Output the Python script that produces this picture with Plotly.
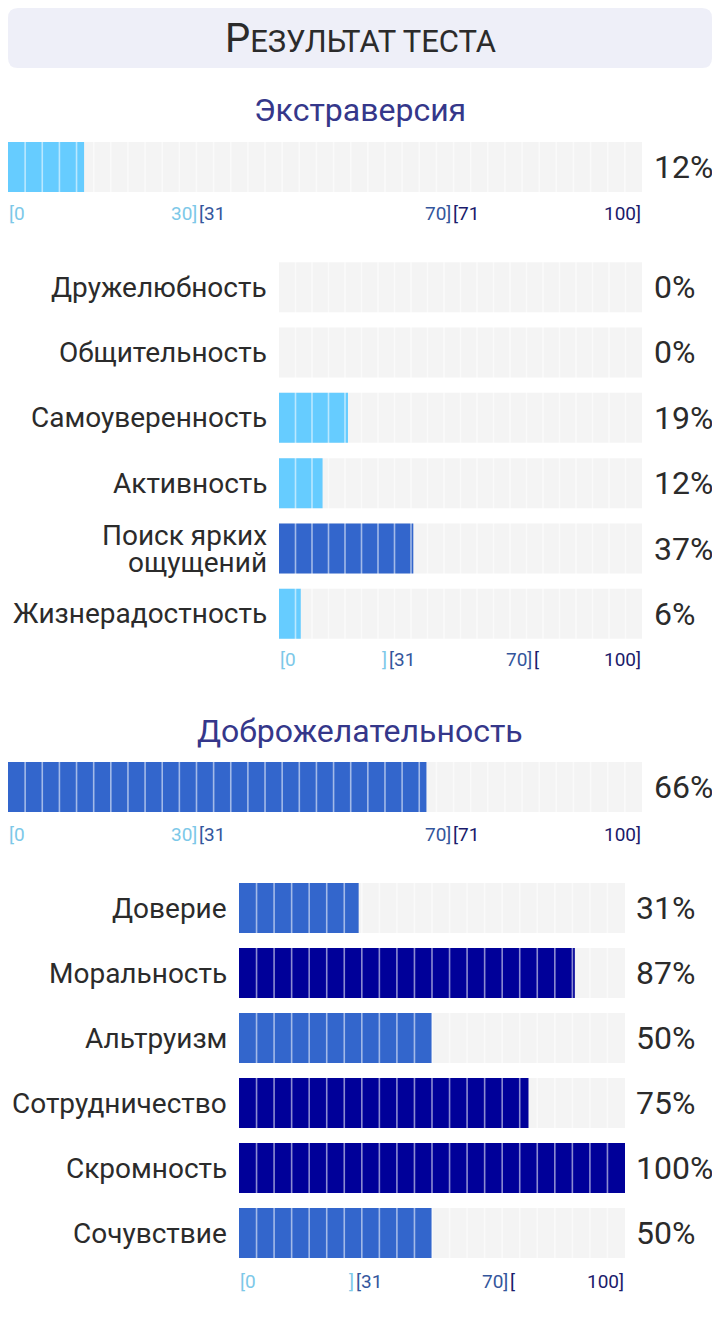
import plotly.graph_objects as go

W, H = 720, 1321
OFF = 8  # the page body puts the plot 8px in from the top-left corner
FW, FH = W - OFF, H - OFF

PAGE_TITLE = "Результат теста"

EXTRA_TITLE = "Экстраверсия"
EXTRA_SCORE = 12
EXTRA_FACETS = ["Дружелюбность", "Общительность", "Самоуверенность", "Активность",
                "Поиск ярких<br>ощущений", "Жизнерадостность"]
EXTRA_VALUES = [0, 0, 19, 12, 37, 6]

AGREE_TITLE = "Доброжелательность"
AGREE_SCORE = 66
AGREE_FACETS = ["Доверие", "Моральность", "Альтруизм", "Сотрудничество", "Скромность", "Сочувствие"]
AGREE_VALUES = [31, 87, 50, 75, 100, 50]

# score bands: [0..30], [31..70], [71..100]
BAND_EDGES = [0, 30, 70, 100]
MAIN_TICKS_OPEN = ["[0", "[31", "[71"]
MAIN_TICKS_CLOSE = ["30]", "70]", "100]"]
FACET_TICKS_OPEN = ["[0", "[31", "["]
FACET_TICKS_CLOSE = ["]", "70]", "100]"]

BAR_COLORS = ["#66ccff", "#3366cc", "#000099"]
TICK_COLORS = ["#7cc8e8", "#34569c", "#1b1b6b"]
TRACK = "#f4f4f4"
TEXT = "#2b2b2b"
TITLE_COLOR = "#35378a"
FONT = "Roboto"


def band(v):
    if v <= BAND_EDGES[1]:
        return 0
    if v <= BAND_EDGES[2]:
        return 1
    return 2


def px(p):
    return (p - OFF) / FW


def py(p):
    return 1 - (p - OFF) / FH


fig = go.Figure()


def add_panel(k, values, x0, x1, y0, y1, bar_w, cells):
    xa, ya = ("x", "y") if k == 1 else (f"x{k}", f"y{k}")
    n = len(values)
    idx = list(range(n))
    fig.add_trace(go.Bar(x=[100] * n, y=idx, orientation="h", width=bar_w,
                         marker=dict(color=TRACK, line_width=0),
                         xaxis=xa, yaxis=ya, hoverinfo="skip"))
    fig.add_trace(go.Bar(x=values, y=idx, orientation="h", width=bar_w,
                         marker=dict(color=[BAR_COLORS[band(v)] for v in values], line_width=0),
                         xaxis=xa, yaxis=ya, hoverinfo="skip"))
    # thin cell separators over the track and the filled part
    lx, ly = [], []
    for c in range(1, cells):
        b = c * 100 / cells
        lx += [b, b, None]
        ly += [-0.5, n - 0.5, None]
    fig.add_trace(go.Scatter(x=lx, y=ly, mode="lines", xaxis=xa, yaxis=ya,
                             line=dict(color="rgba(255,255,255,0.55)", width=1.6),
                             hoverinfo="skip"))
    sfx = "" if k == 1 else str(k)
    fig.layout["xaxis" + sfx] = dict(domain=[px(x0), px(x1)], range=[0, 100], visible=False,
                                     fixedrange=True, anchor=ya)
    fig.layout["yaxis" + sfx] = dict(domain=[py(y1), py(y0)], range=[n - 0.5, -0.5], visible=False,
                                     fixedrange=True, anchor=xa)
    return xa, ya


def add_ticks(xa, y_px, opens, closes):
    for i in range(3):
        for text, x, anchor in ((opens[i], BAND_EDGES[i], "left"),
                                (closes[i], BAND_EDGES[i + 1], "right")):
            fig.add_annotation(x=x, y=py(y_px), xref=xa, yref="paper", text=text,
                               xanchor=anchor, yanchor="middle", showarrow=False, borderpad=0,
                               font=dict(family=FONT, size=19, color=TICK_COLORS[i]))


def add_labels(ya, names, values, label_x, pct_x):
    for i, (name, v) in enumerate(zip(names, values)):
        lines = name.split("<br>")
        for j, line in enumerate(lines):
            if not line:
                continue
            shift = (len(lines) - 1) * 13.5 - j * 27
            fig.add_annotation(x=px(label_x), y=i, xref="paper", yref=ya, text=line,
                               xanchor="right", yanchor="middle", showarrow=False, yshift=shift,
                               borderpad=0, font=dict(family=FONT, size=28, color=TEXT))
        fig.add_annotation(x=px(pct_x), y=i, xref="paper", yref=ya, text=f"{v}%",
                           xanchor="left", yanchor="middle", showarrow=False, borderpad=0,
                           font=dict(family=FONT, size=32, color=TEXT))


# header
r = 10
x0, x1, y0, y1 = px(8), px(712), py(8), py(68)
rx, ry = r / FW, r / FH
fig.add_shape(type="path", xref="paper", yref="paper", line_width=0, fillcolor="#eeeff8",
              path=(f"M {x0 + rx} {y0} L {x1 - rx} {y0} Q {x1} {y0} {x1} {y0 - ry} "
                    f"L {x1} {y1 + ry} Q {x1} {y1} {x1 - rx} {y1} L {x0 + rx} {y1} "
                    f"Q {x0} {y1} {x0} {y1 + ry} L {x0} {y0 - ry} Q {x0} {y0} {x0 + rx} {y0} Z"))
head = PAGE_TITLE[0] + f"<span style='font-size:31px'>{PAGE_TITLE[1:].upper()}</span>"
fig.add_annotation(x=px(360), y=py(39), xref="paper", yref="paper", text=head, showarrow=False,
                   xanchor="center", yanchor="middle", font=dict(family=FONT, size=40, color=TEXT))

# extraversion
fig.add_annotation(x=px(360), y=py(110), xref="paper", yref="paper", text=EXTRA_TITLE,
                   showarrow=False, xanchor="center", yanchor="middle",
                   font=dict(family=FONT, size=32, color=TITLE_COLOR))
xa, ya = add_panel(1, [EXTRA_SCORE], 8, 642, 142, 192, 1.0, 37)
add_labels(ya, [""], [EXTRA_SCORE], 0, 653)
add_ticks(xa, 213, MAIN_TICKS_OPEN, MAIN_TICKS_CLOSE)

xa, ya = add_panel(2, EXTRA_VALUES, 279, 642, 254.5, 646.5, 50 / 65.33, 22)
add_labels(ya, EXTRA_FACETS, EXTRA_VALUES, 268, 653)
add_ticks(xa, 660, FACET_TICKS_OPEN, FACET_TICKS_CLOSE)

# agreeableness
fig.add_annotation(x=px(360), y=py(731), xref="paper", yref="paper", text=AGREE_TITLE,
                   showarrow=False, xanchor="center", yanchor="middle",
                   font=dict(family=FONT, size=32, color=TITLE_COLOR))
xa, ya = add_panel(3, [AGREE_SCORE], 8, 642, 762, 812, 1.0, 37)
add_labels(ya, [""], [AGREE_SCORE], 0, 653)
add_ticks(xa, 834, MAIN_TICKS_OPEN, MAIN_TICKS_CLOSE)

xa, ya = add_panel(4, AGREE_VALUES, 239, 625, 875.5, 1265.5, 50 / 65, 22)
add_labels(ya, AGREE_FACETS, AGREE_VALUES, 228, 635)
add_ticks(xa, 1281, FACET_TICKS_OPEN, FACET_TICKS_CLOSE)

fig.update_layout(width=FW, height=FH, margin=dict(l=0, r=0, t=0, b=0), barmode="overlay",
                  showlegend=False, paper_bgcolor="white", plot_bgcolor="white",
                  font=dict(family=FONT, color=TEXT))

fig.write_html("out.html", config={"displayModeBar": False})
